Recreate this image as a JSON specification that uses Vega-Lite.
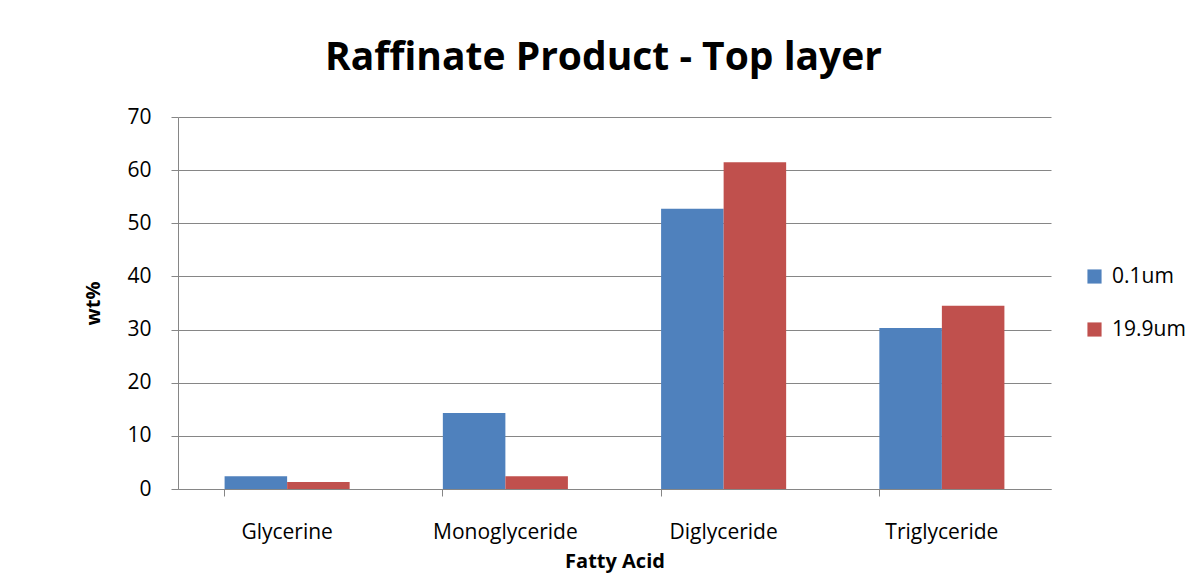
{
  "$schema": "https://vega.github.io/schema/vega-lite/v6.json",
  "width": 873,
  "height": 372,
  "autosize": "none",
  "padding": {"left": 178, "top": 117, "right": 153, "bottom": 91},
  "background": "white",
  "title": {
    "text": "Raffinate Product - Top layer",
    "font": "Open Sans",
    "fontSize": 39,
    "fontWeight": "bold",
    "color": "#000000",
    "anchor": "middle",
    "dx": -11,
    "offset": 28
  },
  "data": {
    "values": [
      {"acid": "Glycerine", "size": "0.1um", "wt": 2.4},
      {"acid": "Glycerine", "size": "19.9um", "wt": 1.3},
      {"acid": "Monoglyceride", "size": "0.1um", "wt": 14.3},
      {"acid": "Monoglyceride", "size": "19.9um", "wt": 2.4},
      {"acid": "Diglyceride", "size": "0.1um", "wt": 52.75},
      {"acid": "Diglyceride", "size": "19.9um", "wt": 61.5},
      {"acid": "Triglyceride", "size": "0.1um", "wt": 30.3},
      {"acid": "Triglyceride", "size": "19.9um", "wt": 34.5}
    ]
  },
  "mark": {"type": "bar"},
  "encoding": {
    "x": {
      "field": "acid",
      "type": "nominal",
      "sort": ["Glycerine", "Monoglyceride", "Diglyceride", "Triglyceride"],
      "scale": {"paddingInner": 0.427, "paddingOuter": 0.2135},
      "axis": {
        "title": "Fatty Acid",
        "titleFont": "Open Sans",
        "titleFontSize": 20,
        "titleFontWeight": "bold",
        "titleColor": "#000000",
        "titlePadding": 9,
        "labelFont": "Open Sans",
        "labelFontSize": 21,
        "labelColor": "#000000",
        "labelAngle": 0,
        "labelPadding": 25,
        "bandPosition": 0,
        "tickSize": 7,
        "tickColor": "#868686",
        "domainColor": "#868686",
        "grid": false
      }
    },
    "xOffset": {"field": "size", "type": "nominal", "sort": ["0.1um", "19.9um"]},
    "y": {
      "field": "wt",
      "type": "quantitative",
      "scale": {"domain": [0, 70], "nice": false},
      "axis": {
        "title": "wt%",
        "titleFont": "Open Sans",
        "titleFontSize": 20,
        "titleFontWeight": "bold",
        "titleColor": "#000000",
        "titlePadding": 23,
        "labelFont": "Open Sans",
        "labelFontSize": 21,
        "labelColor": "#000000",
        "labelPadding": 20,
        "values": [0, 10, 20, 30, 40, 50, 60, 70],
        "tickSize": 7,
        "tickColor": "#868686",
        "domainColor": "#868686",
        "gridColor": "#868686",
        "gridOpacity": 1
      }
    },
    "color": {
      "field": "size",
      "type": "nominal",
      "scale": {"domain": ["0.1um", "19.9um"], "range": ["#4F81BD", "#C0504D"]},
      "legend": {
        "title": null,
        "orient": "none",
        "legendX": 906,
        "legendY": 149,
        "symbolType": "square",
        "symbolSize": 200,
        "symbolStrokeWidth": 0,
        "labelFont": "Open Sans",
        "labelFontSize": 21,
        "labelColor": "#000000",
        "rowPadding": 31,
        "labelOffset": 7
      }
    }
  },
  "config": {"view": {"stroke": null}}
}
